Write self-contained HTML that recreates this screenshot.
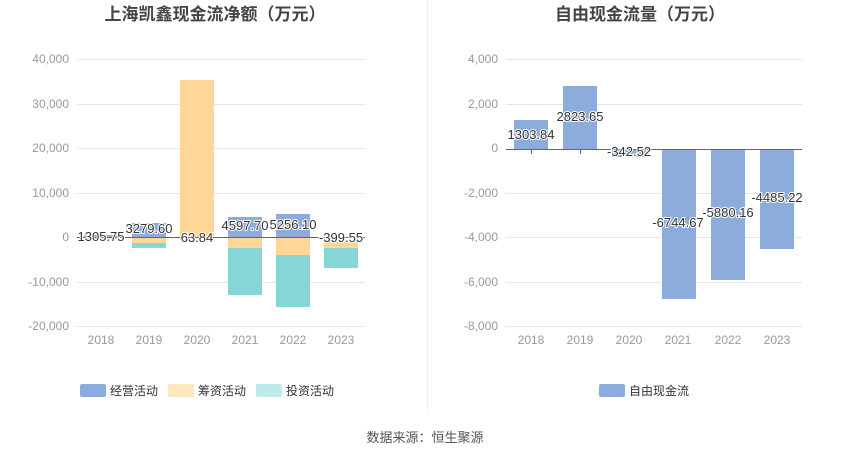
<!DOCTYPE html>
<html><head><meta charset="utf-8"><style>
body{margin:0;background:#fff;}
text{font-family:"Liberation Sans","Noto Sans CJK SC",sans-serif;}
</style></head><body>
<svg width="850" height="459" xmlns="http://www.w3.org/2000/svg">
<rect width="850" height="459" fill="#fff"/>
<line x1="427.5" y1="0" x2="427.5" y2="410" stroke="#eee"/>
<text x="215" y="20" text-anchor="middle" font-size="17" font-weight="bold" fill="#444">上海凯鑫现金流净额（万元）</text>
<text x="640" y="20" text-anchor="middle" font-size="17" font-weight="bold" fill="#444">自由现金流量（万元）</text>
<g stroke="#e3e6f3">
<line x1="77" y1="59.5" x2="365" y2="59.5"/><line x1="77" y1="104.5" x2="365" y2="104.5"/><line x1="77" y1="148.5" x2="365" y2="148.5"/><line x1="77" y1="193.5" x2="365" y2="193.5"/><line x1="77" y1="282.5" x2="365" y2="282.5"/><line x1="77" y1="326.5" x2="365" y2="326.5"/>
<line x1="506" y1="59.5" x2="802" y2="59.5"/><line x1="506" y1="104.5" x2="802" y2="104.5"/><line x1="506" y1="193.5" x2="802" y2="193.5"/><line x1="506" y1="237.5" x2="802" y2="237.5"/><line x1="506" y1="282.5" x2="802" y2="282.5"/><line x1="506" y1="326.5" x2="802" y2="326.5"/>
</g>
<g font-size="12" fill="#999" text-anchor="end">
<text x="69" y="63">40,000</text><text x="69" y="108">30,000</text><text x="69" y="152">20,000</text><text x="69" y="197">10,000</text><text x="69" y="241">0</text><text x="69" y="286">-10,000</text><text x="69" y="330">-20,000</text>
<text x="498" y="63">4,000</text><text x="498" y="108">2,000</text><text x="498" y="152">0</text><text x="498" y="197">-2,000</text><text x="498" y="241">-4,000</text><text x="498" y="286">-6,000</text><text x="498" y="330">-8,000</text>
</g>
<g font-size="12" fill="#999" text-anchor="middle">
<text x="101" y="344">2018</text><text x="149" y="344">2019</text><text x="197" y="344">2020</text><text x="245" y="344">2021</text><text x="293" y="344">2022</text><text x="341" y="344">2023</text>
<text x="531" y="344">2018</text><text x="580" y="344">2019</text><text x="629" y="344">2020</text><text x="678" y="344">2021</text><text x="728" y="344">2022</text><text x="777" y="344">2023</text>
</g>
<g>
<rect x="84" y="235" width="34" height="2" fill="#8caddb"/><rect x="84" y="237" width="34" height="2" fill="#fed797"/>
<rect x="132" y="223" width="34" height="14" fill="#8caddb"/><rect x="132" y="237" width="34" height="6" fill="#fed797"/><rect x="132" y="243" width="34" height="5" fill="#86d6d8"/>
<rect x="180" y="80" width="34" height="157" fill="#fed797"/>
<rect x="228" y="217" width="34" height="20" fill="#8caddb"/><rect x="228" y="237" width="34" height="11" fill="#fed797"/><rect x="228" y="248" width="34" height="47" fill="#86d6d8"/>
<rect x="276" y="214" width="34" height="23" fill="#8caddb"/><rect x="276" y="237" width="34" height="18" fill="#fed797"/><rect x="276" y="255" width="34" height="52" fill="#86d6d8"/>
<rect x="324" y="240" width="34" height="8" fill="#fed797"/><rect x="324" y="248" width="34" height="20" fill="#86d6d8"/>
</g>
<line x1="77" y1="237.5" x2="365" y2="237.5" stroke="#666"/>
<g font-size="13" fill="#333" text-anchor="middle" stroke="#fff" stroke-width="2" paint-order="stroke">
<text x="101" y="241">1305.75</text><text x="149" y="233">3279.60</text><text x="197" y="242">63.84</text><text x="245" y="230">4597.70</text><text x="293" y="229">5256.10</text><text x="341" y="242">-399.55</text>
</g>
<g fill="#8caddb">
<rect x="514" y="120" width="34" height="29"/><rect x="563" y="86" width="34" height="63"/><rect x="612" y="149" width="34" height="8"/>
<rect x="662" y="149" width="34" height="150"/><rect x="711" y="149" width="34" height="131"/><rect x="760" y="149" width="34" height="100"/>
</g>
<line x1="506" y1="149.5" x2="802" y2="149.5" stroke="#666"/>
<line x1="531.5" y1="149" x2="531.5" y2="154" stroke="#666"/><line x1="580.5" y1="149" x2="580.5" y2="154" stroke="#666"/>
<g font-size="13" fill="#333" text-anchor="middle" stroke="#fff" stroke-width="2" paint-order="stroke">
<text x="531" y="139">1303.84</text><text x="580" y="121">2823.65</text><text x="629" y="156">-342.52</text><text x="678" y="227">-6744.67</text><text x="728" y="217">-5880.16</text><text x="777" y="202">-4485.22</text>
</g>
<g font-size="12" fill="#333">
<rect x="80" y="384" width="26" height="13" rx="2" fill="#8caddb"/><text x="110" y="395">经营活动</text>
<rect x="168" y="384" width="26" height="13" rx="2" fill="#fee6bf"/><text x="198" y="395">筹资活动</text>
<rect x="256" y="384" width="26" height="13" rx="2" fill="#bfe9ea"/><text x="286" y="395">投资活动</text>
<rect x="599" y="384" width="26" height="13" rx="2" fill="#8caddb"/><text x="629" y="395">自由现金流</text>
</g>
<text x="425" y="442" text-anchor="middle" font-size="13" fill="#555">数据来源：恒生聚源</text>
</svg>
</body></html>
